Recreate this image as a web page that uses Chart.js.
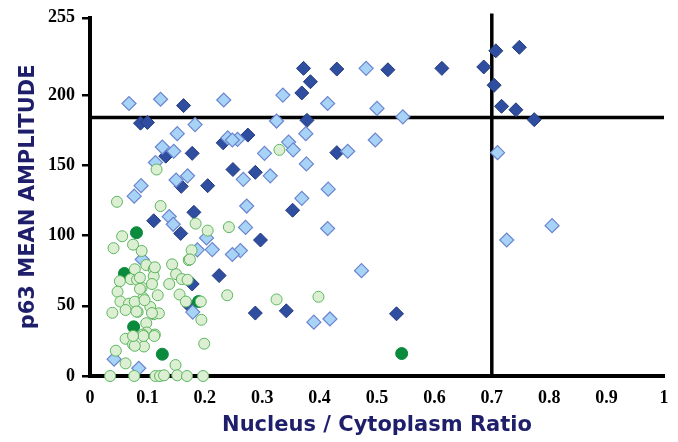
<!DOCTYPE html>
<html>
<head>
<meta charset="utf-8">
<script src="https://cdn.jsdelivr.net/npm/chart.js@4/dist/chart.umd.min.js"></script>
<style>
  html, body { margin: 0; padding: 0; background: #fff; }
  #wrap { width: 678px; height: 442px; }
</style>
</head>
<body>
<div id="wrap"><canvas id="myChart"></canvas></div>
<script>
// tick values and cut-off lines
var yTicks = [0, 50, 100, 150, 200, 255];
var cutY = 184;   // horizontal cut-off on amplitude
var cutX = 0.7;   // vertical cut-off on N/C ratio

// dark blue diamonds
var darkX = [0.748, 0.707, 0.686, 0.613, 0.519, 0.430, 0.372, 0.384, 0.369, 0.704, 0.717, 0.742, 0.774, 0.378,
  0.163, 0.088, 0.100, 0.275, 0.232, 0.132, 0.178, 0.430, 0.249, 0.288, 0.159, 0.205, 0.353, 0.181, 0.111,
  0.158, 0.297, 0.225, 0.178, 0.288, 0.342, 0.534, 0.173];
var darkY = [234, 231.5, 220, 219, 218, 218.5, 219, 209.5, 201.5, 207, 192, 189.5, 182.5, 182,
  192.5, 180, 180.5, 171.5, 166, 156.5, 158.5, 159, 147, 145, 135, 135.5, 118, 116.5, 110.5,
  101.5, 96.8, 71.5, 65.5, 44.8, 46.4, 44.3, 50];

// light blue diamonds
var lightX = [0.481, 0.336, 0.233, 0.123, 0.068, 0.414, 0.500, 0.545, 0.325, 0.183, 0.152, 0.376, 0.240,
  0.257, 0.248, 0.497, 0.346, 0.126, 0.354, 0.146, 0.449, 0.304, 0.710, 0.114, 0.377, 0.170, 0.314, 0.150,
  0.267, 0.089, 0.415, 0.077, 0.369, 0.273, 0.138, 0.145, 0.271, 0.414, 0.805, 0.203, 0.213, 0.187, 0.262,
  0.248, 0.726, 0.091, 0.473, 0.179, 0.390, 0.418, 0.042, 0.085];
var lightY = [219, 200, 196.5, 197, 194, 194, 190.5, 184.5, 181.5, 179, 172.5, 172.5, 169.5,
  168.5, 168, 168, 166.5, 163, 161, 160, 160, 158.5, 159, 152, 151, 142.5, 142.5, 139.5,
  140, 135.5, 133, 128, 126.5, 121, 113.5, 108, 105.8, 105, 107, 98.3, 90, 89.8, 89.3,
  86.5, 96.8, 83, 75, 45.5, 38.3, 40.6, 12, 5.5];

// light green circles
var greenX = [0.330, 0.116, 0.047, 0.123, 0.056, 0.041, 0.075, 0.090, 0.184, 0.205, 0.242, 0.177, 0.172,
  0.098, 0.143, 0.111, 0.150, 0.111, 0.071, 0.052, 0.082, 0.160, 0.170, 0.138, 0.090, 0.108, 0.048, 0.156,
  0.118, 0.239, 0.325, 0.398, 0.093, 0.053, 0.068, 0.167, 0.193, 0.105, 0.062, 0.039, 0.083, 0.111, 0.120,
  0.098, 0.194, 0.099, 0.092, 0.062, 0.113, 0.075, 0.094, 0.199, 0.045, 0.062, 0.149, 0.035, 0.077, 0.114,
  0.122, 0.129, 0.152, 0.169, 0.197, 0.078, 0.113, 0.087, 0.087, 0.078, 0.095, 0.108, 0.081, 0.078, 0.112,
  0.093, 0.075, 0.174];
var greenY = [161, 147, 124, 121, 99.5, 91, 93.5, 89, 108.5, 103.5, 106, 89.5, 82.5,
  79, 79.5, 76, 72.5, 71, 69, 67.5, 68.5, 69, 68.5, 65.5, 63, 65.5, 60, 58,
  57.5, 57.5, 54.5, 56.4, 55.5, 53, 51.5, 53, 53, 49.2, 47, 45, 45.7, 44, 44.6,
  37.6, 40, 31, 29.5, 26.5, 29.5, 22.5, 21, 23, 18, 9, 7.8, 0, 0, 0,
  0, 0.5, 0.5, 0, 0, 76, 77.4, 70, 62, 52.9, 54, 44.8, 45.9, 21.5, 28.5,
  28.5, 28.5, 83];

// dark green circles
var dkGreenX = [0.081, 0.543, 0.126, 0.076, 0.060, 0.189];
var dkGreenY = [102, 16, 15.5, 35, 73, 53];

function toPoints(xs, ys) {
  var pts = [];
  for (var i = 0; i < xs.length; i++) {
    pts.push({ x: xs[i], y: ys[i] });
  }
  return pts;
}

var ctx = document.getElementById("myChart").getContext("2d");

var myChart = new Chart(ctx, {
  type: "scatter",
  data: {
    datasets: [
      {
        label: "light green",
        data: toPoints(greenX, greenY),
        pointStyle: "circle",
        pointRadius: 5.5,
        backgroundColor: "#dcefd3",
        borderColor: "#5cb65f",
        borderWidth: 1,
        order: 1,
      },
      {
        label: "dark green",
        data: toPoints(dkGreenX, dkGreenY),
        pointStyle: "circle",
        pointRadius: 6,
        backgroundColor: "#0a8a3d",
        borderColor: "#0a8a3d",
        borderWidth: 1,
        order: 2,
      },
      {
        label: "light blue",
        data: toPoints(lightX, lightY),
        pointStyle: "rectRot",
        pointRadius: 7,
        backgroundColor: "#a7d4f6",
        borderColor: "#6c84cf",
        borderWidth: 1.2,
        order: 3,
      },
      {
        label: "dark blue",
        data: toPoints(darkX, darkY),
        pointStyle: "rectRot",
        pointRadius: 7,
        backgroundColor: "#2f4e9f",
        borderColor: "#223b7e",
        borderWidth: 1,
        order: 4,
      },
      {
        type: "line",
        label: "cutY",
        data: [{ x: 0, y: cutY }, { x: 1, y: cutY }],
        borderColor: "#000",
        borderWidth: 3.5,
        pointRadius: 0,
        order: 5,
      },
      {
        type: "line",
        label: "cutX",
        data: [{ x: cutX, y: 0 }, { x: cutX, y: 258 }],
        borderColor: "#000",
        borderWidth: 3.5,
        pointRadius: 0,
        order: 6,
      },
    ],
  },
  options: {
    responsive: true,
    maintainAspectRatio: false,
    animation: false,
    clip: false,
    layout: { padding: { top: 11, right: 14, left: 0, bottom: 0 } },
    plugins: {
      legend: { display: false },
      tooltip: { enabled: false },
    },
    scales: {
      x: {
        type: "linear",
        min: 0,
        max: 1,
        border: { color: "#000", width: 4 },
        grid: { display: false },
        ticks: {
          stepSize: 0.1,
          padding: 4,
          color: "#000",
          font: { family: "Liberation Serif", weight: "bold", size: 18 },
          callback: function (v) {
            return String(Number(v.toFixed(1)));
          },
        },
        title: {
          display: true,
          text: "Nucleus / Cytoplasm Ratio",
          color: "#1e1e6b",
          font: { family: "DejaVu Sans", weight: "bold", size: 21 },
          padding: { top: 6 },
        },
        afterFit: function (scale) {
          scale.height = 66;
        },
      },
      y: {
        type: "linear",
        min: 0,
        max: 255,
        border: { color: "#000", width: 4 },
        grid: { drawOnChartArea: false, drawTicks: true, tickLength: 8, color: "#000", lineWidth: 2.5 },
        afterBuildTicks: function (scale) {
          scale.ticks = yTicks.map(function (v) { return { value: v }; });
        },
        ticks: {
          padding: 7,
          color: "#000",
          font: { family: "Liberation Serif", weight: "bold", size: 18 },
        },
        title: {
          display: true,
          text: "p63 MEAN AMPLITUDE",
          color: "#1e1e6b",
          font: { family: "DejaVu Sans", weight: "bold", size: 21 },
          padding: { top: 16, bottom: 0 },
        },
        afterFit: function (scale) {
          scale.width = 90;
        },
      },
    },
  },
});
</script>
</body>
</html>
